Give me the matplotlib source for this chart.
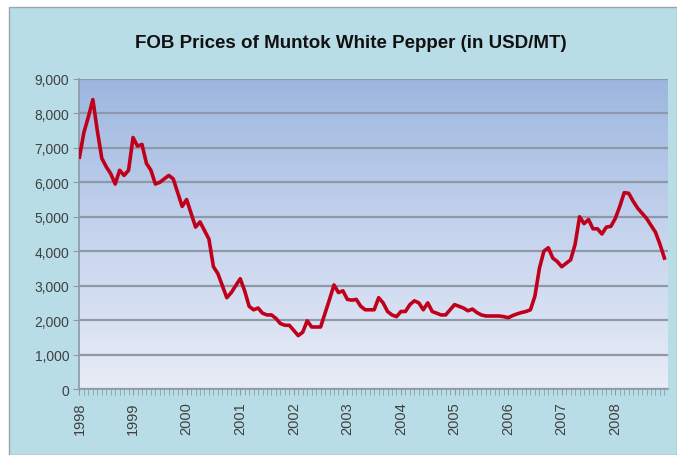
import numpy as np
import matplotlib
matplotlib.use("Agg")
import matplotlib.pyplot as plt
from matplotlib.patches import Rectangle
from matplotlib.colors import LinearSegmentedColormap

# monthly FOB prices, Jan 1998 .. Dec 2008 (USD/MT)
p1998 = [6730, 7450, 7900, 8400, 7500, 6700, 6450, 6250, 5950, 6350, 6200, 6350]
p1999 = [7300, 7050, 7100, 6550, 6350, 5950, 6000, 6100, 6200, 6100, 5700, 5300]
p2000 = [5500, 5100, 4700, 4850, 4600, 4350, 3550, 3350, 3000, 2650, 2800, 3000]
p2001 = [3200, 2850, 2400, 2300, 2350, 2200, 2150, 2150, 2050, 1900, 1850, 1850]
p2002 = [1700, 1550, 1650, 1980, 1800, 1800, 1800, 2200, 2600, 3020, 2800, 2850]
p2003 = [2600, 2580, 2600, 2400, 2300, 2300, 2300, 2650, 2500, 2250, 2150, 2100]
p2004 = [2250, 2250, 2450, 2560, 2500, 2300, 2500, 2250, 2200, 2150, 2150, 2300]
p2005 = [2450, 2400, 2350, 2270, 2320, 2220, 2150, 2120, 2120, 2120, 2120, 2100]
p2006 = [2070, 2130, 2180, 2220, 2250, 2300, 2700, 3500, 4000, 4100, 3800, 3700]
p2007 = [3550, 3650, 3750, 4200, 5000, 4800, 4920, 4650, 4650, 4500, 4700, 4720]
p2008 = [4950, 5300, 5700, 5680, 5450, 5250, 5100, 4950, 4750, 4550, 4200, 3800]

years = list(range(1998, 2009))
prices = p1998 + p1999 + p2000 + p2001 + p2002 + p2003 + p2004 + p2005 + p2006 + p2007 + p2008
months = np.arange(len(prices))

fig = plt.figure(figsize=(6.77, 4.56), dpi=100)
fig.patch.set_facecolor("white")

# light blue chart frame (behind the axes)
frame = Rectangle((0.014, 0.0), 0.986, 0.982, transform=fig.transFigure,
                  facecolor="#b9dde7", edgecolor="#9aa6ad", linewidth=1.0, zorder=-5)
fig.patches.append(frame)

ax = fig.add_axes([0.1167, 0.1447, 0.87, 0.68])
ax.set_zorder(1)
ax.set_xlim(-0.1, 131.8)
ax.set_ylim(0, 9000)

# gradient plot area
cmap = LinearSegmentedColormap.from_list("bg", ["#e8ecf6", "#c6d4ee", "#9db6df"])
grad = np.linspace(0, 1, 256).reshape(-1, 1)
ax.imshow(grad, aspect="auto", cmap=cmap, origin="lower",
          extent=[-0.1, 131.8, 0, 9000], zorder=0)

ax.set_yticks(range(0, 9001, 1000))
ax.set_yticklabels([f"{v:,}" for v in range(0, 9001, 1000)])
ax.yaxis.grid(True, color="#8d99a6", linewidth=1.6)
ax.set_axisbelow(False)

ax.plot(months, prices, color="#c0001a", linewidth=2.6, solid_joinstyle="round", zorder=3)

ax.set_xticks(range(0, len(prices), 12))
ax.set_xticklabels([str(y) for y in years], rotation=90)
ax.set_xticks(months, minor=True)

for s in ["top", "right"]:
    ax.spines[s].set_visible(False)
ax.spines["left"].set_color("#8d99a6")
ax.spines["bottom"].set_color("#8d99a6")
ax.spines["left"].set_linewidth(1.2)
ax.spines["bottom"].set_linewidth(1.2)
ax.tick_params(axis="y", length=4, color="#8d99a6", labelsize=10, labelcolor="#404040", pad=3)
ax.tick_params(axis="x", which="both", length=4, color="#8d99a6", labelsize=10.5,
               labelcolor="#404040", pad=5)

for lab in ax.get_xticklabels() + ax.get_yticklabels():
    lab.set_family(["Liberation Sans", "DejaVu Sans"])

fig.text(0.518, 0.905, "FOB Prices of Muntok White Pepper (in USD/MT)",
         ha="center", va="center", fontsize=13.5, fontweight="bold", color="#111111",
         family=["Liberation Sans", "DejaVu Sans"])

fig.savefig("out.png", dpi=100)
